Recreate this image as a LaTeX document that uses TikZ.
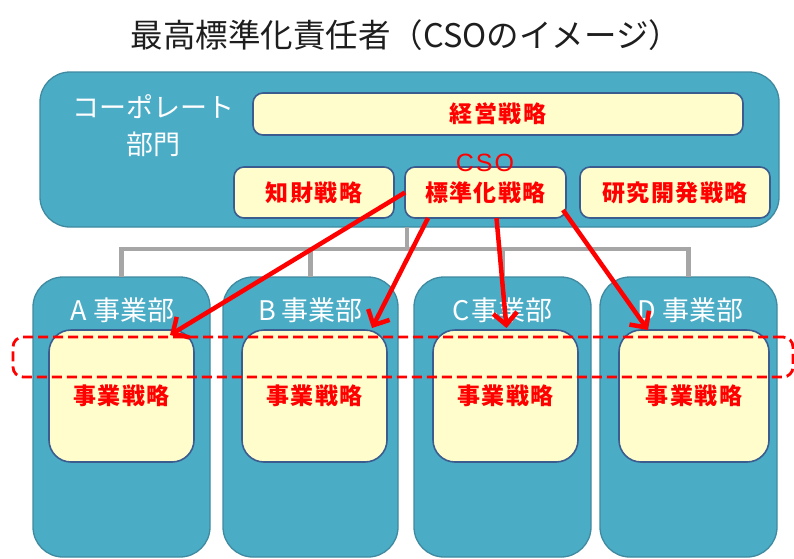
\documentclass[tikz,border=0pt]{standalone}
\usepackage{fontspec}
\newfontfamily\jp{Noto Sans CJK JP}
\newfontfamily\jpls{Noto Sans CJK JP}[LetterSpace=6]
\newfontfamily\latls{Liberation Sans}[LetterSpace=8]
\usetikzlibrary{arrows.meta,calc}
\definecolor{tealfill}{HTML}{4BACC6}
\definecolor{tealline}{HTML}{3F8AA0}
\definecolor{cream}{HTML}{FFFDCB}
\definecolor{navyline}{HTML}{3B5C8E}
\definecolor{treegray}{HTML}{A6A6A6}
\definecolor{titlegray}{HTML}{1E1E1E}
\begin{document}
\begin{tikzpicture}[x=1pt,y=-1pt,
  tealbox/.style={draw=tealline, fill=tealfill, line width=1.3pt, rounded corners=30pt, inner sep=0pt, outer sep=0pt},
  stratbox/.style={draw=navyline, fill=cream, line width=1.6pt, rounded corners=10pt, inner sep=0pt, outer sep=0pt,
    text=red, font=\jpls\bfseries\fontsize{23}{23}\selectfont, minimum height=51pt},
  innerbox/.style={stratbox, rounded corners=22pt, minimum width=145pt, minimum height=132pt},
  whitelabel/.style={text=white, font=\jp\fontsize{27}{37}\selectfont, align=center, inner sep=0pt},
  deptbox/.style={tealbox, minimum width=177pt, minimum height=280pt},
  tree/.style={draw=treegray, line width=4.5pt},
  redarrow/.style={draw=red, line width=4.5pt, -{Straight Barb[length=12pt,width=24pt,line width=4.5pt]}},
  focus/.style={draw=red, line width=2.8pt, dash pattern=on 10pt off 5pt, rounded corners=10pt, inner sep=0pt, outer sep=0pt}
]
\useasboundingbox (0,0) rectangle (794,558);

\node[text=titlegray, font=\jp\fontsize{32.5}{32.5}\selectfont] (title) at (406,35) {最高標準化責任者（CSOのイメージ）};

% corporate
\node[tealbox, minimum width=739pt, minimum height=155pt] (corp) at (409.5,149.5) {};
\node[whitelabel] (corplabel) at (153,126) {コーポレート\\部門};
\node[stratbox, minimum width=490pt, minimum height=42pt] (mgmt) at (498,114) {経営戦略};
\node[stratbox, minimum width=160pt] (chizai) at (314,192.5) {知財戦略};
\node[stratbox, minimum width=161pt] (hyoujun) at (485.5,192.5) {標準化戦略};
\node[stratbox, minimum width=190pt] (kenkyu) at (675,192.5) {研究開発戦略};
\node[text=red, font=\latls\fontsize{25}{25}\selectfont, inner sep=0pt] (cso) at (485,163) {CSO};

% departments
\node[deptbox] (deptA) at (121.5,417) {};
\node[deptbox, minimum width=175pt] (deptB) at (310.5,417) {};
\node[deptbox] (deptC) at (502.5,417) {};
\node[deptbox] (deptD) at (688.5,417) {};

% tree
\coordinate (hub) at (407,249);
\coordinate (busL) at (121.5,249);
\coordinate (busR) at (688.5,249);
\draw[tree] (corp.south -| hub) -- (hub);
\draw[tree] (deptA.north) -- (busL) -- (busR) -- (deptD.north);
\draw[tree] (deptB.north) -- (deptB.north |- busL);
\draw[tree] (deptC.north) -- (deptC.north |- busL);

\node[whitelabel] (labA) at ($(deptA.north)+(1,33)$) {A\hspace{6pt}事業部};
\node[whitelabel] (labB) at ($(deptB.north)+(0,33)$) {B\hspace{6pt}事業部};
\node[whitelabel] (labC) at ($(deptC.north)+(0,33)$) {C\hspace{2pt}事業部};
\node[whitelabel] (labD) at ($(deptD.north)+(2,33)$) {D\hspace{6pt}事業部};

\node[innerbox] (innerA) at (121.5,396) {事業戦略};
\node[innerbox] (innerB) at (314.5,396) {事業戦略};
\node[innerbox] (innerC) at (505.5,396) {事業戦略};
\node[innerbox, minimum width=150pt] (innerD) at (694,396) {事業戦略};

% focus band
\node[focus, minimum width=780pt, minimum height=40pt] (band) at (403,357) {};

% arrows
\draw[redarrow] (hyoujun.west) -- ($(innerA.north east)+(-24,5)$);
\draw[redarrow] ($(hyoujun.south west)+(23,0)$) -- ($(innerB.north east)+(-15,-2)$);
\draw[redarrow] ($(hyoujun.south)+(11,0)$) -- ($(innerC.north)+(1,-2)$);
\draw[redarrow] ($(hyoujun.south east)+(-3,-8)$) -- ($(innerD.north west)+(29,0)$);
\end{tikzpicture}
\end{document}
